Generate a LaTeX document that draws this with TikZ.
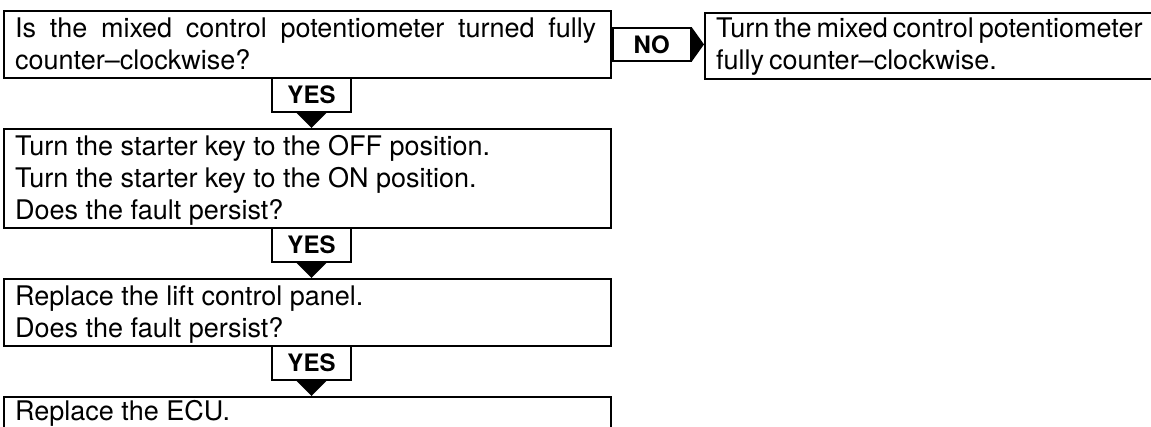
\documentclass[tikz,border=0pt]{standalone}
\usepackage{fontspec}
\setmainfont{TeX Gyre Heros}
\newcommand\tightspacing{\spaceskip=5pt plus 1pt minus 1pt\relax}
\begin{document}
\begin{tikzpicture}[x=1pt,y=-1pt,
  box/.style={draw, line width=1.8pt, inner sep=0pt, anchor=north west, minimum width=607pt},
  txt/.style={inner sep=0pt, anchor=base west, font=\fontsize{27}{32}\selectfont},
  lbl/.style={draw, line width=1.8pt, fill=white, inner sep=0pt, font=\fontsize{24}{28}\selectfont\bfseries},
  yesbox/.style={lbl, minimum width=79pt, minimum height=34pt, anchor=north},
  tri/.style={fill=black}
  ]
\useasboundingbox (0,0) rectangle (1151,426);
\clip (0,0) rectangle (1151,426);
% boxes
\node[box, minimum height=67pt] (q1) at (3,10) {};
\node[box, minimum height=99pt] (q2) at (3,128) {};
\node[box, minimum height=67pt] (q3) at (3,278) {};
\node[box, minimum height=67pt] (q4) at (3,396) {};
\node[box, minimum width=500pt, minimum height=66pt] (a1) at (704,12) {};
% texts
\node[txt] (q1a) at (15,37) {\makebox[581pt][s]{Is the mixed control potentiometer turned fully}};
\node[txt] (q1b) at (15,69) {counter\textendash clockwise?};
\node[txt] (q2a) at (15,155) {Turn the starter key to the OFF position.};
\node[txt] (q2b) at (15,187) {Turn the starter key to the ON position.};
\node[txt] (q2c) at (15,219) {Does the fault persist?};
\node[txt] (q3a) at (15,305) {Replace the lift control panel.};
\node[txt] (q3b) at (15,337) {Does the fault persist?};
\node[txt] (q4a) at (15,420) {Replace the ECU.};
\node[txt] (a1a) at (716,37) {\tightspacing Turn the mixed control potentiometer};
\node[txt] (a1b) at (716,69) {\tightspacing fully counter\textendash clockwise.};
% NO connector
\node[lbl, minimum width=78pt, minimum height=33pt, anchor=north west] (no) at (q1.east |- 0,27) {NO};
\fill[tri] (no.north east) -- (a1.west |- no.east) -- (no.south east) -- cycle;
% YES connectors
\node[yesbox] (y1) at (311.5,77) {YES};
\fill[tri] ([xshift=-15pt]y1.south) -- ([xshift=15pt]y1.south) -- (q2.north -| y1.south) -- cycle;
\node[yesbox] (y2) at (311.5,227) {YES};
\fill[tri] ([xshift=-15pt]y2.south) -- ([xshift=15pt]y2.south) -- (q3.north -| y2.south) -- cycle;
\node[yesbox] (y3) at (311.5,345) {YES};
\fill[tri] ([xshift=-15pt]y3.south) -- ([xshift=15pt]y3.south) -- (q4.north -| y3.south) -- cycle;
\end{tikzpicture}
\end{document}
